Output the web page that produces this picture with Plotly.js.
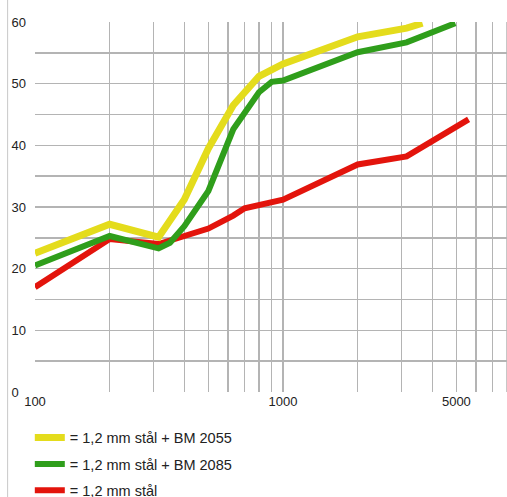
<!DOCTYPE html>
<html>
<head>
<meta charset="utf-8">
<script src="https://cdn.plot.ly/plotly-3.0.1.min.js"></script>
<style>html,body{margin:0;padding:0;background:#fff;}#chart{width:507px;height:497px;}</style>
</head>
<body>
<div id="chart"></div>
<script>
// Frequency (Hz) and values
const yellowFreq = [100, 200, 315, 400, 500, 630, 800, 1000, 2000, 3150, 3650];
const yellowVal  = [22.5, 27.2, 25.1, 31.2, 39.5, 46.5, 51.2, 53.2, 57.6, 59.0, 59.8];

const greenFreq  = [100, 200, 315, 350, 400, 500, 630, 800, 900, 1000, 2000, 3150, 4950];
const greenVal   = [20.5, 25.3, 23.3, 24.2, 26.9, 32.6, 42.6, 48.6, 50.3, 50.5, 55.1, 56.7, 59.8];

const redFreq    = [100, 200, 315, 400, 500, 630, 700, 1000, 2000, 3150, 4000, 5600];
const redVal     = [17.0, 24.8, 24.0, 25.3, 26.5, 28.6, 29.8, 31.2, 36.9, 38.2, 40.7, 44.2];

const seriesNames = ["= 1,2 mm stål + BM 2055", "= 1,2 mm stål + BM 2085", "= 1,2 mm stål"];

const xTickVals = [100, 1000, 5000];
const xTickText = ["100", "1000", "5000"];
const xMinorVals = [200, 300, 400, 500, 600, 700, 800, 900, 2000, 3000, 4000, 6000, 7000, 8000];
const yTickVals = [0, 10, 20, 30, 40, 50, 60];
const yTickText = ["0\u00a0\u00a0", "10", "20", "30", "40", "50", "60"];

const traces = [
  {x: redFreq, y: redVal, name: seriesNames[2], mode: "lines", legendrank: 3, legendgroup: "g3",
   line: {color: "#e3140c", width: 6}},
  {x: greenFreq, y: greenVal, name: seriesNames[1], mode: "lines", legendrank: 2, legendgroup: "g2",
   line: {color: "#2f9e1b", width: 6}},
  {x: yellowFreq, y: yellowVal, name: seriesNames[0], mode: "lines", legendrank: 1, legendgroup: "g1",
   line: {color: "#e4dc1c", width: 7}}
];

const layout = {
  width: 507, height: 497,
  margin: {l: 35, r: 0, t: 22, b: 105, autoexpand: false},
  paper_bgcolor: "#fff", plot_bgcolor: "#fff",
  font: {family: "Liberation Sans, Arial, sans-serif", size: 13, color: "#222"},
  showlegend: true,
  legend: {x: -0.011, xanchor: "left", y: -0.080, yanchor: "top",
           traceorder: "grouped", tracegroupgap: 4.5,
           font: {size: 14.5, color: "#222"}, bgcolor: "rgba(0,0,0,0)"},
  xaxis: {type: "log", range: [2, Math.log10(8000)], tickmode: "array",
          tickvals: xTickVals, ticktext: xTickText, showgrid: true,
          gridcolor: "#b4b4b4", gridwidth: 1.5, zeroline: false, showline: false,
          ticks: "", ticklabelstandoff: 0,
          minor: {tickvals: xMinorVals, showgrid: true, gridcolor: "#b4b4b4", gridwidth: 1.5, ticks: ""}},
  yaxis: {range: [0, 60], tickmode: "array", tickvals: yTickVals, ticktext: yTickText,
          showgrid: true, gridcolor: "#b4b4b4", gridwidth: 1.5, zeroline: false, showline: false,
          ticks: "", ticklabelstandoff: 8,
          minor: {dtick: 5, showgrid: true, gridcolor: "#b4b4b4", gridwidth: 1.5, ticks: ""}},
  shapes: [
    {type: "line", xref: "paper", yref: "paper", x0: -0.058, x1: -0.058, y0: -0.3, y1: 1.07,
     line: {color: "#c8c8c8", width: 1}},
    {type: "line", xref: "paper", yref: "paper", x0: 1, x1: 1, y0: 0, y1: 1,
     line: {color: "#b4b4b4", width: 1.5}}
  ]
};

Plotly.newPlot("chart", traces, layout, {displayModeBar: false, staticPlot: true});
</script>
</body>
</html>
